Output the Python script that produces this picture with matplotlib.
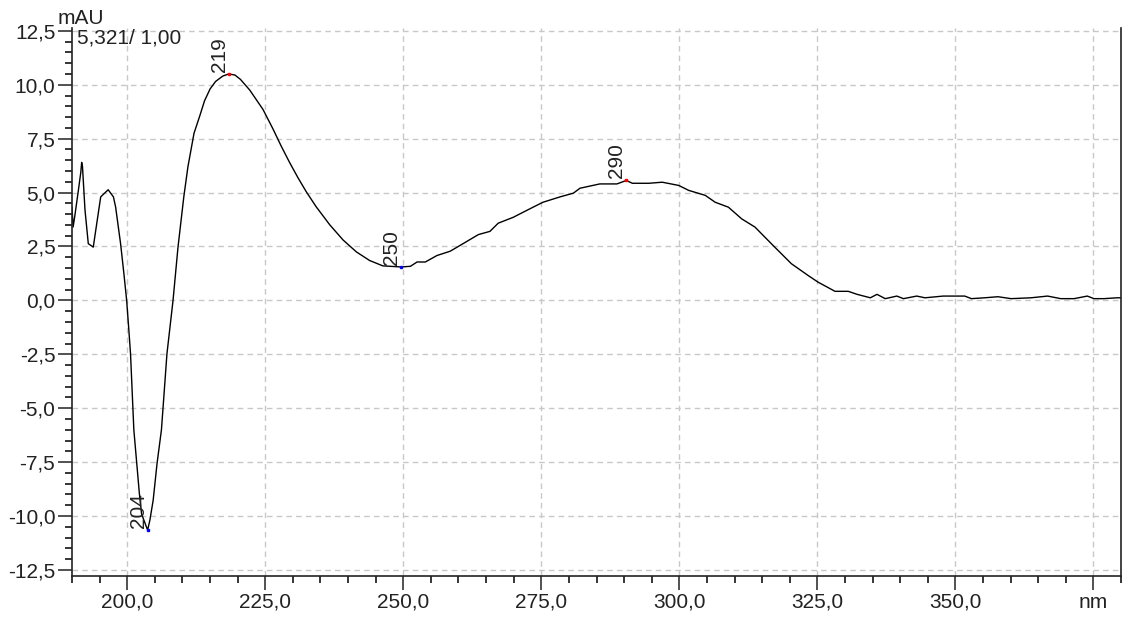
import matplotlib
matplotlib.use("Agg")
import matplotlib.pyplot as plt
from matplotlib.ticker import MultipleLocator, FuncFormatter

plt.rcParams['font.family'] = ['Liberation Sans', 'DejaVu Sans']

# spectrum (nm, mAU)
wl = [190.0, 190.2, 190.5, 191.1, 191.6, 191.75, 191.9, 192.35, 192.95, 193.85,
      195.2, 196.55, 197.5, 197.9, 198.8, 199.4, 199.9, 200.3, 200.6, 201.2,
      202.2, 202.6, 203.4, 203.7, 204.1, 204.7, 205.4, 206.2, 207.2, 208.3,
      209.2, 210.25, 211.0, 212.1, 213.2, 214.0, 215.0, 216.0, 217.3, 218.4,
      219.5, 220.5, 222.2, 224.6, 226.4, 227.9, 229.4, 230.9, 232.4, 234.2,
      236.7, 239.1, 241.5, 243.9, 246.3, 249.6, 251.3, 252.5, 254.0, 256.1,
      258.5, 260.3, 263.6, 265.7, 267.2, 269.9, 273.5, 275.3, 278.4, 280.8,
      282.0, 285.6, 288.7, 290.4, 291.5, 294.5, 296.9, 299.9, 301.7, 304.7,
      306.5, 308.9, 311.3, 313.7, 316.7, 320.3, 323.3, 325.1, 328.2, 330.6,
      332.2, 334.6, 335.8, 337.3, 339.4, 340.6, 343.0, 344.5, 347.8, 351.7,
      352.9, 355.3, 357.7, 360.1, 363.7, 366.7, 369.1, 371.5, 373.9, 375.1,
      376.9, 379.3, 380.0]
mau = [4.3, 3.4, 3.9, 5.0, 5.95, 6.4, 6.2, 4.2, 2.63, 2.47,
       4.8, 5.13, 4.8, 4.33, 2.63, 1.24, 0.0, -1.39, -2.47, -6.0,
       -8.95, -9.9, -10.45, -10.65, -10.2, -9.27, -7.57, -6.0, -2.47, 0.0,
       2.47, 4.8, 6.2, 7.75, 8.6, 9.25, 9.8, 10.15, 10.4, 10.5,
       10.45, 10.25, 9.75, 8.85, 7.95, 7.15, 6.4, 5.7, 5.05, 4.35,
       3.5, 2.8, 2.25, 1.85, 1.6, 1.55, 1.58, 1.78, 1.78, 2.08,
       2.28, 2.55, 3.05, 3.2, 3.58, 3.85, 4.32, 4.55, 4.8, 4.97,
       5.2, 5.4, 5.4, 5.56, 5.43, 5.43, 5.48, 5.33, 5.1, 4.87,
       4.55, 4.32, 3.78, 3.4, 2.62, 1.7, 1.16, 0.85, 0.42, 0.42,
       0.28, 0.12, 0.28, 0.08, 0.2, 0.08, 0.2, 0.12, 0.2, 0.2,
       0.08, 0.12, 0.17, 0.08, 0.12, 0.2, 0.08, 0.08, 0.2, 0.08,
       0.08, 0.12, 0.12]

# labelled extrema: position on the curve and printed label
peak_wl = [203.7, 218.4, 249.6, 290.4]
peak_mau = [-10.65, 10.5, 1.55, 5.56]
peak_lbl = ['204', '219', '250', '290']
peak_col = ['blue', 'red', 'blue', 'red']

fig = plt.figure(figsize=(11.38, 6.18), dpi=100)
ax = fig.add_axes([72/1138, 42/618, 1049/1138, 548/618])

ax.plot(wl, mau, color='black', lw=1.0)
for pw, pm, pl, pc in zip(peak_wl, peak_mau, peak_lbl, peak_col):
    ax.plot(pw, pm, 's', ms=1.5, color=pc, mec=pc)
    ax.text(pw, pm + 0.1, pl, rotation=90, ha='right', va='bottom',
            fontsize=15, color='#222222')

ax.set_xlim(190, 380)
ax.set_ylim(-12.78, 12.63)

ax.xaxis.set_major_locator(MultipleLocator(25))
ax.xaxis.set_minor_locator(MultipleLocator(5))
ax.yaxis.set_major_locator(MultipleLocator(2.5))
ax.yaxis.set_minor_locator(MultipleLocator(0.5))


def xfmt(v, pos):
    if abs(v - 375) < 1e-6:
        return 'nm'
    return f"{v:.1f}".replace('.', ',')


def yfmt(v, pos):
    return f"{v:.1f}".replace('.', ',')


ax.xaxis.set_major_formatter(FuncFormatter(xfmt))
ax.yaxis.set_major_formatter(FuncFormatter(yfmt))

ax.tick_params(which='major', length=10, width=1.1, labelsize=15,
               colors='#222222', pad=2)
ax.tick_params(which='minor', length=5, width=1.1)

ax.grid(True, which='major', color='#c8c8c8', linestyle=(0, (4, 3)), lw=1)
ax.set_axisbelow(True)

ax.spines['top'].set_visible(False)
for s in ['left', 'bottom', 'right']:
    ax.spines[s].set_linewidth(1.2)
    ax.spines[s].set_color('#222222')

fig.text(77/1138, 1 - 29/618, '5,321/ 1,00', fontsize=15, va='top',
         color='#222222')
fig.text(58/1138, 1 - 24/618, 'mAU', fontsize=15, va='baseline',
         color='#222222')

fig.savefig('out.png', dpi=100)
